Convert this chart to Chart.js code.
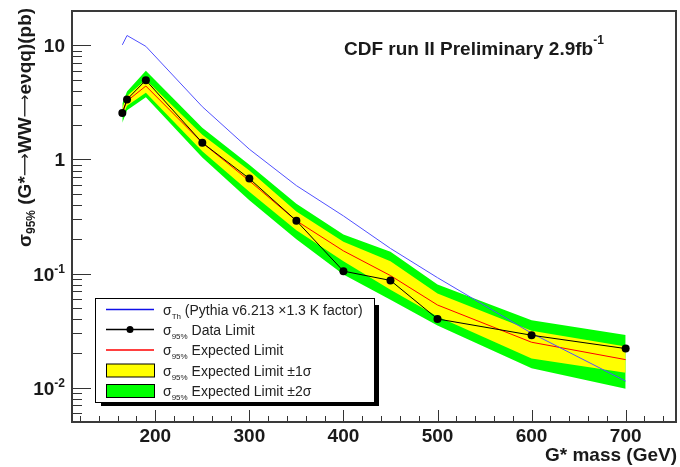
<!DOCTYPE html>
<html>
<head>
<meta charset="utf-8">
<script src="https://cdn.jsdelivr.net/npm/chart.js@4"></script>
<style>
  html, body { margin: 0; padding: 0; background: #fff; }
  #wrap { width: 680px; height: 467px; }
</style>
</head>
<body>
<div id="wrap"><canvas id="chart" width="680" height="467"></canvas></div>
<script>
// G* masses (GeV)
const masses = [165, 170, 190, 250, 300, 350, 400, 450, 500, 600, 700];
// cross sections in pb
const dataLimit = [2.55, 3.36, 4.95, 1.40, 0.68, 0.29, 0.105, 0.087, 0.040, 0.0288, 0.022];
const expected  = [2.6, 3.25, 4.4, 1.40, 0.65, 0.29, 0.158, 0.096, 0.053, 0.025, 0.0176];
const exp1Lo    = [2.35, 2.95, 3.85, 1.18, 0.52, 0.24, 0.128, 0.072, 0.042, 0.018, 0.0135];
const exp1Hi    = [2.85, 3.6, 5.0, 1.65, 0.80, 0.35, 0.19, 0.128, 0.067, 0.0316, 0.023];
const exp2Lo    = [2.1, 2.7, 3.5, 1.04, 0.44, 0.20, 0.098, 0.059, 0.035, 0.0148, 0.0098];
const exp2Hi    = [3.1, 3.95, 6.0, 1.90, 0.90, 0.41, 0.22, 0.155, 0.080, 0.039, 0.029];
const theory    = [10.1, 12.2, 9.8, 2.9, 1.23, 0.59, 0.32, 0.166, 0.092, 0.030, 0.0114];

const xTickLabels = [200, 300, 400, 500, 600, 700];
const yTickValues = [0.01, 0.1, 1, 10];
const yTickLabels = ["10^-2", "10^-1", "1", "10"];

const FONT = '"Liberation Sans", Arial, Helvetica, sans-serif';
const pts = (ys) => masses.map((m, i) => ({ x: m, y: ys[i] }));

// draw a run of text pieces (sub/superscripts) left to right
function drawRich(ctx, x, y, parts) {
  for (const p of parts) {
    ctx.font = (p.bold ? 'bold ' : '') + p.size + 'px ' + (p.family || FONT);
    ctx.fillText(p.t, x, y + (p.dy || 0));
    x += ctx.measureText(p.t).width;
  }
  return x;
}

const rootStyle = {
  id: 'rootStyle',
  afterDraw(chart) {
    const ctx = chart.ctx;
    const { left, right, top, bottom } = chart.chartArea;
    const xs = chart.scales.x, ys = chart.scales.y;
    ctx.save();

    // axis ticks, drawn inwards like ROOT
    ctx.strokeStyle = '#333';
    ctx.lineWidth = 1;
    ctx.beginPath();
    for (let v = 120; v <= 740; v += 20) {
      const px = Math.round(xs.getPixelForValue(v)) + 0.5;
      const len = v % 100 === 0 ? 12 : 6;
      ctx.moveTo(px, bottom);
      ctx.lineTo(px, bottom - len);
    }
    for (let e = -3; e <= 1; e++) {
      for (let m = 1; m <= 9; m++) {
        const v = m * Math.pow(10, e);
        if (v <= ys.min * 1.001 || v >= ys.max * 0.999) continue;
        const py = Math.round(ys.getPixelForValue(v)) + 0.5;
        const len = m === 1 ? 19 : 10;
        ctx.moveTo(left, py);
        ctx.lineTo(left + len, py);
      }
    }
    ctx.stroke();

    // frame
    ctx.lineWidth = 2;
    ctx.strokeStyle = '#3a3a3a';
    ctx.strokeRect(left, top, right - left, bottom - top);

    // tick labels
    ctx.fillStyle = '#1a1a1a';
    ctx.textBaseline = 'alphabetic';
    ctx.font = 'bold 19px ' + FONT;
    ctx.textAlign = 'center';
    xTickLabels.forEach((v) => {
      ctx.fillText(String(v), xs.getPixelForValue(v), 441.5);
    });
    ctx.textAlign = 'left';
    yTickValues.forEach((v, i) => {
      const [base, exp] = yTickLabels[i].split('^');
      const py = ys.getPixelForValue(v) + 7;
      ctx.font = 'bold 19px ' + FONT;
      const wb = ctx.measureText(base).width;
      ctx.font = 'bold 12px ' + FONT;
      const we = exp ? ctx.measureText(exp).width : 0;
      const x0 = 65 - wb - we;
      drawRich(ctx, x0, py, [
        { t: base, size: 19, bold: true },
        { t: exp || '', size: 12, bold: true, dy: -8 },
      ]);
    });

    // x axis title
    ctx.font = 'bold 19px ' + FONT;
    ctx.textAlign = 'right';
    ctx.fillText('G* mass (GeV)', 677, 461);
    ctx.textAlign = 'left';

    // y axis title (rotated)
    ctx.save();
    ctx.translate(31, 247);
    ctx.rotate(-Math.PI / 2);
    const arrow = { t: '⟶', size: 16, bold: false, family: '"DejaVu Sans", sans-serif', dy: -1 };
    drawRich(ctx, 0, 0, [
      { t: 'σ', size: 19, bold: true },
      { t: '95%', size: 12, bold: true, dy: 4 },
      { t: ' (G*', size: 19, bold: true },
      arrow,
      { t: 'WW', size: 19, bold: true },
      arrow,
      { t: 'eνqq)(pb)', size: 19, bold: true },
    ]);
    ctx.restore();

    // experiment label
    drawRich(ctx, 344, 55, [
      { t: 'CDF run II Preliminary 2.9fb', size: 19, bold: true },
      { t: '-1', size: 12, bold: true, dy: -11 },
    ]);

    // legend box with shadow
    const lx = 95, ly = 298, lw = 279, lh = 104;
    ctx.fillStyle = '#000';
    ctx.fillRect(lx + lw, ly + 7, 5, lh - 4);
    ctx.fillRect(lx + 6, ly + lh, lw - 1, 4);
    ctx.fillStyle = '#fff';
    ctx.fillRect(lx, ly, lw, lh);
    ctx.strokeStyle = '#000';
    ctx.lineWidth = 1;
    ctx.strokeRect(lx + 0.5, ly + 0.5, lw, lh);

    const rowY = [309.5, 329.5, 350, 370.5, 391];
    const sx0 = 106, sx1 = 154, tx = 163;
    const sets = chart.data.datasets;
    // theory
    ctx.strokeStyle = '#1010e8';
    ctx.lineWidth = 1.5;
    ctx.beginPath(); ctx.moveTo(sx0, rowY[0]); ctx.lineTo(sx1, rowY[0]); ctx.stroke();
    // data
    ctx.strokeStyle = '#000';
    ctx.beginPath(); ctx.moveTo(sx0, rowY[1]); ctx.lineTo(sx1, rowY[1]); ctx.stroke();
    ctx.fillStyle = '#000';
    ctx.beginPath(); ctx.arc(130, rowY[1], 3.5, 0, Math.PI * 2); ctx.fill();
    // expected
    ctx.strokeStyle = sets[2].borderColor;
    ctx.beginPath(); ctx.moveTo(sx0, rowY[2]); ctx.lineTo(sx1, rowY[2]); ctx.stroke();
    // bands
    [[3, sets[3].backgroundColor], [4, sets[5].backgroundColor]].forEach(([r, c]) => {
      ctx.fillStyle = c;
      ctx.fillRect(sx0, rowY[r] - 6.5, sx1 - sx0, 13);
      ctx.strokeStyle = '#000';
      ctx.lineWidth = 1;
      ctx.strokeRect(sx0 + 0.5, rowY[r] - 6.5, sx1 - sx0, 13);
    });

    ctx.fillStyle = '#222';
    const sig95 = [{ t: 'σ', size: 14 }, { t: '95%', size: 8, dy: 4 }];
    drawRich(ctx, tx, rowY[0] + 5, [
      { t: 'σ', size: 14 }, { t: 'Th', size: 8, dy: 4 },
      { t: ' (Pythia v6.213 ×1.3 K factor)', size: 14 },
    ]);
    drawRich(ctx, tx, rowY[1] + 5, [...sig95, { t: ' Data Limit', size: 14 }]);
    drawRich(ctx, tx, rowY[2] + 5, [...sig95, { t: ' Expected Limit', size: 14 }]);
    drawRich(ctx, tx, rowY[3] + 5, [...sig95, { t: ' Expected Limit ±1σ', size: 14 }]);
    drawRich(ctx, tx, rowY[4] + 5, [...sig95, { t: ' Expected Limit ±2σ', size: 14 }]);

    ctx.restore();
  },
};

const ctx = document.getElementById('chart');
new Chart(ctx, {
  type: 'line',
  data: {
    datasets: [
      { label: 'Data Limit', data: pts(dataLimit), borderColor: '#000', borderWidth: 1,
        pointRadius: 4, pointBackgroundColor: '#000', pointBorderWidth: 0, order: 0 },
      { label: 'Theory', data: pts(theory), borderColor: '#5050ff', borderWidth: 1,
        pointRadius: 0, order: 1 },
      { label: 'Expected Limit', data: pts(expected), borderColor: '#ff0000', borderWidth: 1,
        pointRadius: 0, order: 2 },
      { label: '1 sigma hi', data: pts(exp1Hi), borderWidth: 0, pointRadius: 0,
        backgroundColor: '#ffff00', fill: 4, order: 3 },
      { label: '1 sigma lo', data: pts(exp1Lo), borderWidth: 0, pointRadius: 0, order: 4 },
      { label: '2 sigma hi', data: pts(exp2Hi), borderWidth: 0, pointRadius: 0,
        backgroundColor: '#00ff00', fill: 6, order: 5 },
      { label: '2 sigma lo', data: pts(exp2Lo), borderWidth: 0, pointRadius: 0, order: 6 },
    ],
  },
  options: {
    responsive: false,
    devicePixelRatio: 1,
    animation: false,
    layout: { padding: { left: 72, top: 11, right: 2, bottom: 45 } },
    elements: { line: { tension: 0 } },
    scales: {
      x: { type: 'linear', display: false, min: 111.5, max: 753.5, bounds: 'data' },
      y: { type: 'logarithmic', display: false, min: 0.005, max: 20, bounds: 'data' },
    },
    plugins: {
      legend: { display: false },
      tooltip: { enabled: false },
      filler: { propagate: false },
    },
  },
  plugins: [rootStyle],
});
</script>
</body>
</html>
